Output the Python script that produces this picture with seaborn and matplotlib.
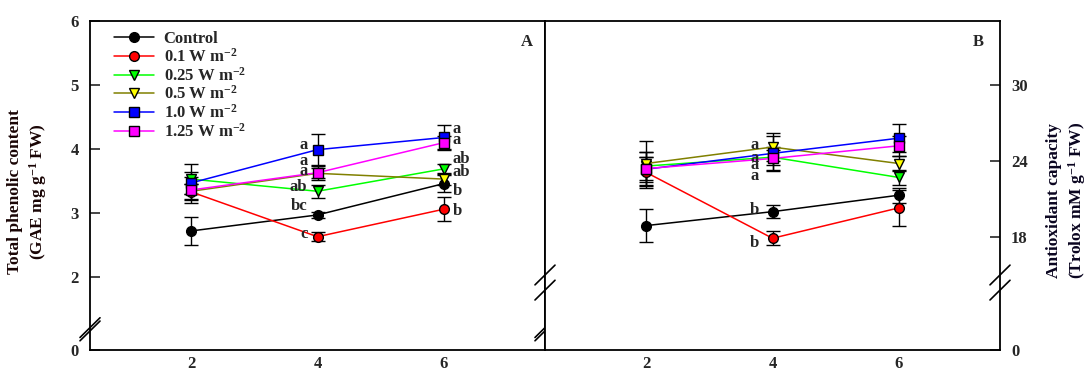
import matplotlib
matplotlib.use("Agg")
import pandas as pd
import seaborn as sns
import matplotlib.pyplot as plt

# ---------------- data ----------------
days = [2, 4, 6]
treatments = ["Control", "0.1 W m$^{-2}$", "0.25 W m$^{-2}$",
              "0.5 W m$^{-2}$", "1.0 W m$^{-2}$", "1.25 W m$^{-2}$"]
line_colors = ["black", "red", "#00ff00", "#808000", "blue", "magenta"]
face_colors = ["black", "red", "#00ff00", "yellow", "blue", "magenta"]
marker_shapes = ["o", "o", "v", "v", "s", "s"]

# Panel A: total phenolic content (GAE mg g-1 FW)
phenolic_mean = {
    "Control": [2.72, 2.97, 3.46],
    "0.1": [3.33, 2.63, 3.06],
    "0.25": [3.53, 3.34, 3.69],
    "0.5": [3.34, 3.62, 3.53],
    "1.0": [3.47, 3.99, 4.18],
    "1.25": [3.36, 3.63, 4.10],
}
phenolic_err = {
    "Control": [0.22, 0.05, 0.13],
    "0.1": [0.12, 0.07, 0.19],
    "0.25": [0.24, 0.10, 0.08],
    "0.5": [0.12, 0.08, 0.10],
    "1.0": [0.17, 0.25, 0.20],
    "1.25": [0.20, 0.12, 0.10],
}
# Panel B: antioxidant capacity (Trolox mM g-1 FW)
antiox_mean = {
    "Control": [18.9, 20.0, 21.3],
    "0.1": [23.1, 17.9, 20.3],
    "0.25": [23.6, 24.3, 22.7],
    "0.5": [23.8, 25.1, 23.8],
    "1.0": [23.35, 24.6, 25.8],
    "1.25": [23.4, 24.2, 25.2],
}
antiox_err = {
    "Control": [1.3, 0.5, 0.6],
    "0.1": [1.2, 0.55, 1.4],
    "0.25": [1.1, 0.6, 0.6],
    "0.5": [1.8, 1.1, 0.6],
    "1.0": [1.0, 1.4, 1.1],
    "1.25": [1.3, 0.9, 0.8],
}
keys = ["Control", "0.1", "0.25", "0.5", "1.0", "1.25"]

# significance letters: (day, y, text)
letters_a = [(4, 4.07, "a"), (4, 3.81, "a"), (4, 3.66, "a"), (4, 3.40, "ab"),
             (4, 3.11, "bc"), (4, 2.67, "c"),
             (6, 4.32, "a"), (6, 4.14, "a"), (6, 3.84, "ab"), (6, 3.64, "ab"),
             (6, 3.34, "b"), (6, 3.03, "b")]
letters_b = [(4, 25.3, "a"), (4, 24.2, "a"), (4, 23.7, "a"), (4, 22.8, "a"),
             (4, 20.1, "b"), (4, 17.5, "b")]

# ---------------- style ----------------
sns.set_style("ticks")
plt.rcParams["font.family"] = ["Liberation Serif", "DejaVu Serif"]
plt.rcParams["font.weight"] = "bold"
plt.rcParams["mathtext.fontset"] = "custom"
plt.rcParams["mathtext.rm"] = "Liberation Serif:bold"
plt.rcParams["mathtext.it"] = "Liberation Serif:bold"
plt.rcParams["mathtext.bf"] = "Liberation Serif:bold"
plt.rcParams["mathtext.default"] = "rm"

fig = plt.figure(figsize=(10.88, 3.74), dpi=100)
ax_a = fig.add_axes([90 / 1088, 24 / 374, 455 / 1088, 329 / 374])
ax_b = fig.add_axes([545 / 1088, 24 / 374, 455 / 1088, 329 / 374])

A_LOW, B_LOW = 0.86, 9.08


def draw_panel(ax, means, errs):
    handles = []
    for key, name, lc, fc, mk in zip(keys, treatments, line_colors, face_colors, marker_shapes):
        ax.errorbar(days, means[key], yerr=errs[key], fmt="none", ecolor="black",
                    elinewidth=1.0, capsize=5, capthick=1.0, zorder=2)
        df = pd.DataFrame({"day": days, "value": means[key]})
        sns.lineplot(data=df, x="day", y="value", ax=ax, color=lc, marker=mk,
                     markersize=7, markerfacecolor=fc, markeredgecolor="black",
                     markeredgewidth=1.0, linewidth=1.1, zorder=3, legend=False)
        ln = ax.lines[-1]
        ln.set_label(name)
        handles.append(ln)
    ax.set_xlim(0.4, 7.6)
    ax.set_xticks(days)
    ax.set_xticklabels([str(d) for d in days], fontsize=12, fontweight="bold")
    ax.tick_params(axis="x", length=0, pad=4)
    ax.set_xlabel("")
    ax.set_ylabel("")
    for s in ax.spines.values():
        s.set_visible(True)
        s.set_linewidth(1.3)
        s.set_color("black")
    return handles


handles = draw_panel(ax_a, phenolic_mean, phenolic_err)
draw_panel(ax_b, antiox_mean, antiox_err)

# Panel A y axis (broken between 0 and 2)
ax_a.set_ylim(A_LOW, 6)
ax_a.set_yticks([A_LOW, 2, 3, 4, 5, 6])
ax_a.set_yticklabels(["0", "2", "3", "4", "5", "6"], fontsize=12, fontweight="bold")
ax_a.tick_params(axis="y", direction="in", length=7, width=1.2, pad=8)

# Panel B y axis on the right (broken between 0 and 18)
ax_b.set_ylim(B_LOW, 35.05)
ax_b.yaxis.tick_right()
ax_b.set_yticks([B_LOW, 18, 24, 30])
ax_b.set_yticklabels(["0", "18", "24", "30"], fontsize=12, fontweight="bold")
ax_b.tick_params(axis="y", direction="in", length=7, width=1.2, pad=8)

# significance letters
for d, y, t in letters_a:
    if d == 4:
        ax_a.text(d - 0.16, y, t, ha="right", va="center", fontsize=12, fontweight="bold")
    else:
        ax_a.text(d + 0.14, y, t, ha="left", va="center", fontsize=12, fontweight="bold")
for d, y, t in letters_b:
    ax_b.text(d - 0.22, y, t, ha="right", va="center", fontsize=12, fontweight="bold")

ax_a.text(0.96, 0.935, "A", transform=ax_a.transAxes, ha="center", va="center",
          fontsize=12, fontweight="bold")
ax_b.text(0.952, 0.935, "B", transform=ax_b.transAxes, ha="center", va="center",
          fontsize=12, fontweight="bold")

# axis break marks
def slash(ax, x, y, dx=0.022, dy=0.03):
    ax.plot([x - dx, x + dx], [y - dy, y + dy], transform=ax.transAxes,
            color="black", lw=1.2, clip_on=False, zorder=5)

for xs in (0.0, 1.0):
    slash(ax_a, xs, 0.058)
    slash(ax_a, xs, 0.068)
for xs in (0.0, 1.0):
    slash(ax_b, xs, 0.228)
    slash(ax_b, xs, 0.182)

leg = ax_a.legend(handles=handles, labels=treatments, loc="upper left",
                  bbox_to_anchor=(0.03, 1.0), frameon=False, fontsize=12,
                  handlelength=2.4, handletextpad=0.6, labelspacing=0.05,
                  borderpad=0.1)

fig.text(28 / 1088, 1 - 192 / 374, "Total phenolic content\n(GAE mg g$^{-1}$ FW)",
         rotation=90, ha="center", va="center", fontsize=12.5, fontweight="bold",
         multialignment="center", color="#1a0505")
fig.text(1067 / 1088, 1 - 200 / 374, "Antioxidant capacity\n(Trolox mM g$^{-1}$ FW)",
         rotation=90, ha="center", va="center", fontsize=12.5, fontweight="bold",
         multialignment="center", color="#0a0520")

fig.savefig("out.png", dpi=100)
